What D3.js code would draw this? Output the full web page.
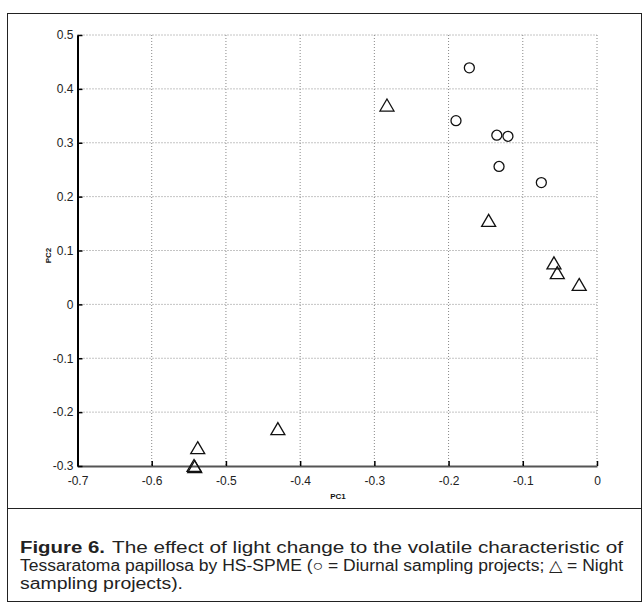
<!DOCTYPE html>
<html>
<head>
<meta charset="utf-8">
<script src="https://cdn.jsdelivr.net/npm/d3@7/dist/d3.min.js"></script>
<style>
  html, body { margin: 0; padding: 0; background: #fff; }
  svg { display: block; }
</style>
</head>
<body>
<script>
// ---- Data ----
const diurnalPC1 = [-0.172, -0.190, -0.135, -0.120, -0.132, -0.075];
const diurnalPC2 = [0.439, 0.341, 0.314, 0.312, 0.256, 0.226];
const nightPC1 = [-0.283, -0.146, -0.058, -0.0535, -0.024, -0.430, -0.538, -0.543, -0.542];
const nightPC2 = [0.370, 0.156, 0.077, 0.059, 0.037, -0.2305, -0.266, -0.299, -0.301];
const xTicks = [-0.7, -0.6, -0.5, -0.4, -0.3, -0.2, -0.1, 0];
const yTicks = [-0.3, -0.2, -0.1, 0, 0.1, 0.2, 0.3, 0.4, 0.5];
const xTickLabels = ["-0.7", "-0.6", "-0.5", "-0.4", "-0.3", "-0.2", "-0.1", "0"];
const yTickLabels = ["-0.3", "-0.2", "-0.1", "0", "0.1", "0.2", "0.3", "0.4", "0.5"];
const xLabel = "PC1";
const yLabel = "PC2";
const captionBold = "Figure 6.";
const captionLine1 = "The effect of light change to the volatile characteristic of";
const captionLine2 = "Tessaratoma papillosa by HS-SPME (\u25CB = Diurnal sampling projects; \u25B3 = Night";
const captionLine3 = "sampling projects).";

const W = 644, H = 608;
const svg = d3.select("body").append("svg").attr("width", W).attr("height", H);

// outer frame
svg.append("rect").attr("x", 7.5).attr("y", 13.5).attr("width", 634).attr("height", 588)
  .attr("fill", "none").attr("stroke", "#222").attr("stroke-width", 1);
svg.append("line").attr("x1", 7.5).attr("x2", 641.5).attr("y1", 508.5).attr("y2", 508.5)
  .attr("stroke", "#222").attr("stroke-width", 1);

const x = d3.scaleLinear().domain([-0.7, 0]).range([77.5, 597]);
const y = d3.scaleLinear().domain([-0.3, 0.5]).range([466, 35]);

const g = svg.append("g");

// grid
g.selectAll(".vg").data(xTicks.filter(d => d > -0.7)).enter().append("line")
  .attr("x1", d => x(d)).attr("x2", d => x(d)).attr("y1", y(0.5)).attr("y2", y(-0.3))
  .attr("stroke", "#888").attr("stroke-width", 1).attr("stroke-dasharray", "1,2");
g.selectAll(".hg").data(yTicks.filter(d => d > -0.3)).enter().append("line")
  .attr("x1", x(-0.7)).attr("x2", x(0)).attr("y1", d => y(d)).attr("y2", d => y(d))
  .attr("stroke", "#888").attr("stroke-width", 1).attr("stroke-dasharray", "1,2");

// axes
const xAxis = d3.axisBottom(x).tickValues(xTicks).tickFormat((d, i) => xTickLabels[i])
  .tickSizeInner(-5).tickSizeOuter(0).tickPadding(10);
const yAxis = d3.axisLeft(y).tickValues(yTicks).tickFormat((d, i) => yTickLabels[i])
  .tickSizeInner(-5).tickSizeOuter(0).tickPadding(4);

const gx = svg.append("g").attr("transform", `translate(0,${y(-0.3)})`).call(xAxis);
gx.select(".domain").attr("stroke", "#555").attr("stroke-width", 2);
gx.selectAll(".tick line").attr("stroke", "#000").attr("stroke-width", 1.5);
gx.selectAll(".tick text").attr("font-family", "Liberation Sans, Arial, sans-serif")
  .attr("font-size", 12).attr("fill", "#222");

const gy = svg.append("g").attr("transform", `translate(${x(-0.7)},0)`).call(yAxis);
gy.select(".domain").attr("stroke", "#000").attr("stroke-width", 2);
gy.selectAll(".tick line").attr("stroke", "#000").attr("stroke-width", 1.5);
gy.selectAll(".tick text").attr("font-family", "Liberation Sans, Arial, sans-serif")
  .attr("font-size", 12).attr("fill", "#222");

// axis labels
svg.append("text").attr("x", 338).attr("y", 499).attr("text-anchor", "middle")
  .attr("font-family", "Liberation Sans, Arial, sans-serif").attr("font-size", 8)
  .attr("font-weight", "bold").attr("fill", "#111").text(xLabel);
svg.append("text").attr("transform", `translate(51,${(y(0.5) + y(-0.3)) / 2 + 5}) rotate(-90)`)
  .attr("text-anchor", "middle")
  .attr("font-family", "Liberation Sans, Arial, sans-serif").attr("font-size", 8)
  .attr("font-weight", "bold").attr("fill", "#111").text(yLabel);

// points
const diurnal = diurnalPC1.map((v, i) => ({ pc1: v, pc2: diurnalPC2[i] }));
const night = nightPC1.map((v, i) => ({ pc1: v, pc2: nightPC2[i] }));

svg.append("g").selectAll("circle").data(diurnal).enter().append("circle")
  .attr("cx", d => x(d.pc1)).attr("cy", d => y(d.pc2)).attr("r", 5)
  .attr("fill", "none").attr("stroke", "#111").attr("stroke-width", 1.3);

svg.append("g").selectAll("path").data(night).enter().append("path")
  .attr("transform", d => `translate(${x(d.pc1)},${y(d.pc2)})`)
  .attr("d", "M0,-6L7,6L-7,6Z")
  .attr("fill", "none").attr("stroke", "#111").attr("stroke-width", 1.3)
  .attr("stroke-linejoin", "miter");

// caption
const capFont = "Liberation Sans Narrow, Liberation Sans, Arial, sans-serif";
const capSize = 16;
svg.append("text").attr("x", 20).attr("y", 553)
  .attr("font-family", capFont).attr("font-size", capSize).attr("font-weight", "bold").attr("fill", "#222")
  .attr("textLength", 85).attr("lengthAdjust", "spacingAndGlyphs").text(captionBold);
svg.append("text").attr("x", 112).attr("y", 553)
  .attr("font-family", capFont).attr("font-size", capSize).attr("fill", "#222")
  .attr("textLength", 511).attr("lengthAdjust", "spacingAndGlyphs").text(captionLine1);
svg.append("text").attr("x", 20).attr("y", 571)
  .attr("font-family", capFont).attr("font-size", capSize).attr("fill", "#222")
  .attr("textLength", 603).attr("lengthAdjust", "spacingAndGlyphs").text(captionLine2);
svg.append("text").attr("x", 20).attr("y", 589)
  .attr("font-family", capFont).attr("font-size", capSize).attr("fill", "#222")
  .attr("textLength", 163).attr("lengthAdjust", "spacingAndGlyphs").text(captionLine3);
</script>
</body>
</html>
